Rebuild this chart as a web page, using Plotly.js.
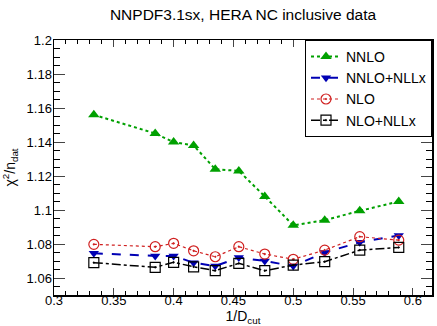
<!DOCTYPE html>
<html><head><meta charset="utf-8">
<script src="https://cdn.plot.ly/plotly-3.0.1.min.js"></script>
<style>html,body{margin:0;padding:0;background:#fff}#chart{width:437px;height:326px}</style>
</head><body><div id="chart"></div>
<script>
const invDcut = [0.3333, 0.3846, 0.4, 0.4167, 0.4348, 0.4545, 0.4762, 0.5, 0.5263, 0.5556, 0.5882];
const nnlo = [1.156, 1.145, 1.140, 1.138, 1.124, 1.123, 1.108, 1.091, 1.094, 1.0995, 1.105];
const nnloNllx = [1.0745, 1.073, 1.073, 1.069, 1.067, 1.072, 1.070, 1.067, 1.075, 1.081, 1.085];
const nlo = [1.0798, 1.0784, 1.0804, 1.076, 1.0725, 1.0784, 1.0741, 1.071, 1.0764, 1.0843, 1.0823];
const nloNllx = [1.069, 1.0663, 1.0692, 1.0666, 1.0643, 1.0686, 1.0643, 1.0676, 1.0696, 1.0764, 1.078];
const seriesNames = ['NNLO', 'NNLO+NLLx', 'NLO', 'NLO+NLLx'];

const traces = [
  {x: invDcut, y: nnlo, name: seriesNames[0], mode: 'lines+markers',
   line: {color: '#00a000', width: 2, dash: 'dot'},
   marker: {symbol: 'triangle-up', size: 10, color: '#00a000'}},
  {x: invDcut, y: nnloNllx, name: seriesNames[1], mode: 'lines+markers',
   line: {color: '#0000b4', width: 2, dash: 'dash'},
   marker: {symbol: 'triangle-down', size: 9, color: '#0000b4'}},
  {x: invDcut, y: nlo, name: seriesNames[2], mode: 'lines+markers',
   line: {color: '#d02020', width: 1.2, dash: 'dot'},
   marker: {symbol: 'circle-open-dot', size: 10, color: '#d02020', line: {width: 1.2}}},
  {x: invDcut, y: nloNllx, name: seriesNames[3], mode: 'lines+markers',
   line: {color: '#000000', width: 1.5, dash: 'dashdot'},
   marker: {symbol: 'square-open-dot', size: 10, color: '#000000', line: {width: 1.2}}}
];

const font = {family: 'Liberation Sans, Arial, sans-serif', color: '#000'};
const layout = {
  width: 437, height: 326,
  margin: {l: 54, r: 5, t: 40, b: 31},
  paper_bgcolor: '#fff', plot_bgcolor: '#fff',
  font: Object.assign({size: 13}, font),
  showlegend: true,
  title: {text: 'NNPDF3.1sx, HERA NC inclusive data', xref: 'paper', x: 0.5, xanchor: 'center',
          yref: 'container', y: 0.954, yanchor: 'middle',
          font: Object.assign({size: 15.5}, font)},
  xaxis: {range: [0.3, 0.616], dtick: 0.05, tick0: 0.3, ticks: 'inside', ticklen: 7, tickwidth: 1,
          ticklabelstandoff: -7,
          mirror: 'ticks', showline: true, linecolor: '#000', linewidth: 1.5, showgrid: false, zeroline: false,
          minor: {dtick: 0.01, ticks: 'inside', ticklen: 4, tickcolor: '#000'},
          title: {text: '1/D<sub>cut</sub>', standoff: 4, font: Object.assign({size: 14}, font)}},
  yaxis: {range: [1.05, 1.2], dtick: 0.02, tick0: 1.06, ticks: 'inside', ticklen: 11, tickwidth: 1,
          ticklabelstandoff: -2,
          mirror: 'ticks', showline: true, linecolor: '#000', linewidth: 1.5, showgrid: false, zeroline: false,
          minor: {dtick: 0.005, ticks: 'inside', ticklen: 6, tickcolor: '#000'},
          title: {text: 'χ<sup>2</sup>/n<sub>dat</sub>', standoff: 8, font: Object.assign({size: 14}, font)}},
  legend: {x: 1, xanchor: 'right', y: 1, yanchor: 'top', bgcolor: '#fff', bordercolor: '#000', borderwidth: 1,
           font: Object.assign({size: 14}, font), itemwidth: 30}
};
Plotly.newPlot('chart', traces, layout, {displayModeBar: false, staticPlot: true});
</script></body></html>
